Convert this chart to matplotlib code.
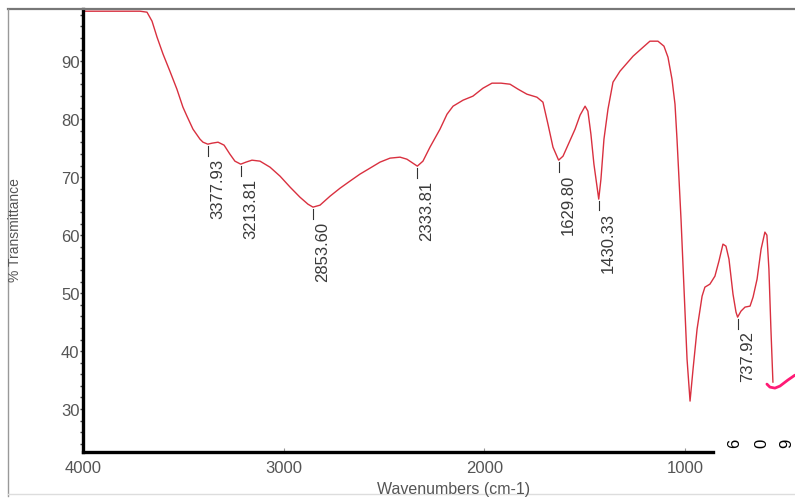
import numpy as np
import matplotlib
matplotlib.use("Agg")
import matplotlib.pyplot as plt
from matplotlib.lines import Line2D
from matplotlib.ticker import MultipleLocator, FixedLocator

plt.rcParams['font.family'] = ['Liberation Sans', 'DejaVu Sans']

# Spectrum (wavenumber cm-1, %T)
wavenumber = [4000, 3915, 3816, 3716, 3681, 3656, 3631, 3601, 3567, 3532, 3502, 3482, 3452,
              3417, 3402, 3378, 3357, 3327, 3297, 3268, 3243, 3214, 3188, 3158, 3118, 3068,
              3018, 2968, 2919, 2879, 2854, 2819, 2769, 2719, 2670, 2620, 2570, 2520, 2470,
              2420, 2386, 2356, 2334, 2306, 2271, 2221, 2186, 2156, 2106, 2057, 2007, 1962,
              1917, 1872, 1832, 1788, 1738, 1708, 1683, 1658, 1630, 1608, 1588, 1548, 1523,
              1498, 1484, 1469, 1454, 1430, 1419, 1404, 1384, 1359, 1324, 1259, 1209, 1175,
              1135, 1105, 1085, 1065, 1050, 1040, 1030, 1020, 1005, 990, 975, 960, 940, 915,
              901, 876, 851, 831, 811, 796, 781, 761, 746, 738, 721, 701, 676, 661, 641, 621,
              602, 592, 582, 572, 562]
transmittance = [98.62, 98.62, 98.62, 98.62, 98.45, 96.90, 94.14, 91.21, 88.28, 85.17, 82.07,
                 80.52, 78.28, 76.55, 76.03, 75.69, 75.86, 76.03, 75.52, 73.97, 72.76, 72.24,
                 72.59, 72.93, 72.76, 71.72, 70.17, 68.28, 66.55, 65.34, 64.83, 65.17, 66.72,
                 68.10, 69.31, 70.52, 71.55, 72.59, 73.28, 73.45, 73.10, 72.41, 71.90, 72.76,
                 75.17, 78.28, 80.86, 82.24, 83.28, 83.97, 85.34, 86.21, 86.21, 86.03, 85.17,
                 84.31, 83.79, 82.93, 79.14, 75.17, 72.93, 73.62, 75.17, 78.28, 80.69, 82.24,
                 81.38, 77.41, 72.24, 66.21, 69.66, 76.55, 81.72, 86.38, 88.28, 90.86, 92.41,
                 93.45, 93.45, 92.59, 90.69, 86.90, 82.59, 76.55, 69.66, 62.76, 50.69, 38.62,
                 31.38, 36.90, 43.79, 49.48, 51.03, 51.55, 52.93, 55.52, 58.45, 58.10, 55.86,
                 49.83, 46.72, 45.86, 46.90, 47.59, 47.76, 49.31, 52.41, 57.59, 60.52, 60.00,
                 54.14, 43.79, 34.66]

# pink hand-drawn tail at the low-wavenumber end
tail_wavenumber = [592, 577, 552, 527, 488, 452]
tail_transmittance = [34.31, 33.79, 33.62, 33.97, 35.0, 35.86]

# labelled peaks
peak_positions = [3377.93, 3213.81, 2853.60, 2333.81, 1629.80, 1430.33, 737.92]
peak_labels = ["3377.93", "3213.81", "2853.60", "2333.81", "1629.80", "1430.33", "737.92"]

x_ticks = [4000, 3000, 2000, 1000]
y_ticks = [30, 40, 50, 60, 70, 80, 90]
stray_chars = ["6", "0", "9"]

W, H = 795, 502
fig = plt.figure(figsize=(W / 100, H / 100), dpi=100)
ax = fig.add_axes([83 / W, 1 - 453 / H, 1 - 83 / W, (453 - 10) / H])
ax.set_facecolor('white')

ax.plot(wavenumber, transmittance, color='#d9303f', lw=1.0, solid_joinstyle='round')
ax.plot(tail_wavenumber, tail_transmittance, color='#ff1a75', lw=2.0, solid_capstyle='round')

ax.set_xlim(4000, 452)
ax.set_ylim(22.6, 99.0)

for s in ['top', 'right']:
    ax.spines[s].set_visible(False)
ax.spines['left'].set_linewidth(2.4)
ax.spines['bottom'].set_linewidth(2.4)
ax.spines['left'].set_color('black')
ax.spines['bottom'].set_color('black')
ax.spines['bottom'].set_bounds(4000, 860)

ax.xaxis.set_major_locator(FixedLocator(x_ticks))
ax.set_xticklabels([str(v) for v in x_ticks])
ax.yaxis.set_major_locator(FixedLocator(y_ticks))
ax.set_yticklabels([str(v) for v in y_ticks])
ax.yaxis.set_minor_locator(MultipleLocator(2))

ax.tick_params(axis='x', which='major', direction='in', length=3, width=0.8,
               colors='#999999', labelcolor='#555555', labelsize=12, pad=6)
ax.tick_params(axis='y', which='major', direction='out', length=2, width=1.0,
               color='#444444', labelcolor='#555555', labelsize=12, pad=0.5)
ax.tick_params(axis='y', which='minor', direction='out', length=2, width=1.0, color='#444444')

# peak markers and labels
for pos, lab in zip(peak_positions, peak_labels):
    tmin = np.interp(pos, wavenumber[::-1], transmittance[::-1])
    ax.plot([pos, pos], [tmin - 0.35, tmin - 2.0], color='#333333', lw=0.8)
    ax.annotate(lab, xy=(pos, tmin - 2.3), xytext=(7, 0), textcoords='offset points',
                rotation=90, ha='center', va='top', fontsize=12, color='#3a3a3a')

# axis labels placed like the reference
fig.text(454 / W, 1 - 490 / H, "Wavenumbers (cm-1)", ha='center', va='center',
         fontsize=11.5, color='#555555')
fig.text(15 / W, 1 - 230 / H, "% Transmittance", ha='center', va='center',
         rotation=90, fontsize=10, color='#555555')

# stray rotated characters at the bottom right
for ch, px in zip(stray_chars, [735, 762, 787]):
    fig.text(px / W, 1 - 443 / H, ch, ha='center', va='center', rotation=90,
             fontsize=12, color='black')

# outer frame lines of the screenshot
fig.add_artist(Line2D([8 / W, 1], [1 - 10 / H, 1 - 10 / H], color='#777777', lw=1.6))
fig.add_artist(Line2D([8 / W, 8 / W], [1 - 10 / H, 1 - 497 / H], color='#999999', lw=1.0))
fig.add_artist(Line2D([8 / W, 1], [1 - 495 / H, 1 - 495 / H], color='#dddddd', lw=1.0))

fig.savefig("out.png", dpi=100)
